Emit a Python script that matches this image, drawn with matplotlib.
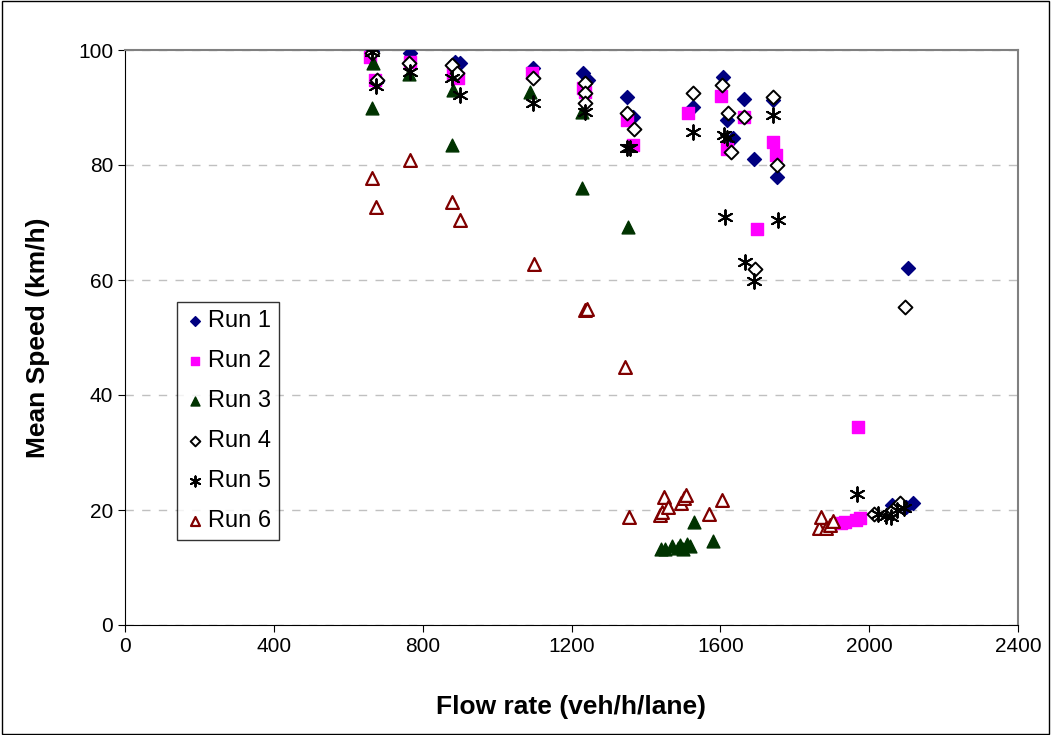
import matplotlib.pyplot as plt
import matplotlib.patches as mpatches

plt.rcParams['font.family'] = ['Liberation Sans', 'DejaVu Sans']

# Run 1
flow1 = [664, 677, 766, 887, 900, 1097, 1231, 1244, 1349, 1366, 1527, 1607, 1618,
         1635, 1664, 1691, 1741, 1753, 2104, 2062, 2100, 2118]
speed1 = [99.8, 94.6, 99.4, 97.9, 97.7, 96.9, 96.0, 94.8, 91.8, 88.3, 90.1, 95.3, 87.8,
          84.7, 91.5, 81.0, 91.3, 77.9, 62.1, 20.8, 20.5, 21.2]
# Run 2
flow2 = [658, 672, 766, 882, 895, 1094, 1231, 1236, 1349, 1366, 1513, 1602, 1618,
         1664, 1741, 1750, 1699, 1970, 1925, 1935, 1965, 1975]
speed2 = [98.8, 94.8, 97.9, 96.0, 95.1, 96.0, 93.4, 92.7, 87.8, 83.5, 89.1, 92.0, 82.7,
          88.3, 84.0, 81.7, 68.9, 34.4, 17.8, 18.0, 18.3, 18.6]
# Run 3
flow3 = [667, 664, 764, 882, 879, 1089, 1228, 1228, 1352, 1440, 1450, 1470, 1491,
         1510, 1518, 1500, 1486, 1529, 1580]
speed3 = [97.7, 89.9, 95.9, 93.0, 83.5, 92.7, 89.2, 76.0, 69.2, 13.2, 13.2, 13.7, 13.9,
          14.1, 13.7, 13.2, 13.4, 17.9, 14.6]
# Run 4
flow4 = [664, 677, 763, 879, 892, 1097, 1236, 1236, 1236, 1349, 1368, 1527, 1604,
         1620, 1629, 1664, 1741, 1753, 1693, 2096, 2013, 2064, 2083]
speed4 = [99.5, 94.8, 97.7, 97.4, 96.0, 95.1, 94.3, 92.6, 90.8, 89.0, 86.3, 92.5, 93.9,
          89.0, 82.3, 88.3, 91.8, 80.0, 62.0, 55.3, 19.3, 20.0, 21.2]
# Run 5
flow5 = [664, 675, 766, 879, 900, 1097, 1236, 1349, 1358, 1527, 1610, 1618, 1741,
         1613, 1755, 1666, 1690, 1967, 2024, 2045, 2059, 2075, 2093]
speed5 = [99.6, 93.8, 96.2, 95.1, 92.2, 90.8, 89.2, 83.0, 83.0, 85.7, 85.2, 84.7, 88.7,
          71.0, 70.4, 63.1, 59.8, 22.8, 19.3, 19.0, 18.8, 20.0, 20.3]
# Run 6
flow6 = [664, 675, 766, 879, 900, 1099, 1236, 1242, 1344, 1355, 1438, 1443, 1449,
         1460, 1494, 1502, 1508, 1570, 1604, 1865, 1870, 1884, 1895, 1903]
speed6 = [77.7, 72.7, 80.9, 73.6, 70.4, 62.8, 54.8, 55.0, 44.9, 18.8, 19.1, 19.7, 22.3,
          20.5, 21.2, 22.1, 22.6, 19.3, 21.7, 16.9, 18.8, 16.9, 17.4, 18.1]

fig = plt.figure(figsize=(10.51, 7.35), dpi=100)
ax = fig.add_axes([125/1051, 110/735, 893/1051, 575/735])

ax.scatter(flow1, speed1, marker='D', s=50, color='#000080', label='Run 1', zorder=3)
ax.scatter(flow2, speed2, marker='s', s=65, color='#ff00ff', label='Run 2', zorder=3)
ax.scatter(flow3, speed3, marker='^', s=85, color='#003300', label='Run 3', zorder=3)
ax.scatter(flow4, speed4, marker='D', s=50, facecolor='white', edgecolor='black',
           linewidth=1.4, label='Run 4', zorder=3)
ax.scatter(flow5, speed5, marker=(6, 2, 0), s=110, color='black', linewidth=1.4,
           label='Run 5', zorder=3)
ax.scatter(flow6, speed6, marker='^', s=85, facecolor='white', edgecolor='#800000',
           linewidth=1.6, label='Run 6', zorder=3)

ax.set_xlim(0, 2400)
ax.set_ylim(0, 100)
ax.set_xticks(range(0, 2401, 400))
ax.set_yticks(range(0, 101, 20))
ax.tick_params(labelsize=15, direction='out', length=5)
ax.yaxis.grid(True, linestyle=(0, (6, 6)), color='#c0c0c0', linewidth=1)
ax.set_axisbelow(True)
for side in ['top', 'right']:
    ax.spines[side].set_color('#808080')
    ax.spines[side].set_linewidth(1.5)
ax.set_xlabel('Flow rate (veh/h/lane)', fontsize=19, fontweight='bold', labelpad=28)
ax.set_ylabel('Mean Speed (km/h)', fontsize=19, fontweight='bold', labelpad=20)

leg = ax.legend(loc='upper left', bbox_to_anchor=(52/893, 323/575), fontsize=17,
                frameon=True, fancybox=False, edgecolor='black', markerscale=0.7,
                handletextpad=0.15, handlelength=0.8, labelspacing=0.76,
                borderpad=0.35, borderaxespad=0)
leg.get_frame().set_linewidth(1)

fig.patches.append(mpatches.Rectangle((0.002, 0.002), 0.996, 0.996, transform=fig.transFigure,
                                      fill=False, edgecolor='black', linewidth=1))

fig.savefig('out.png', dpi=100)
